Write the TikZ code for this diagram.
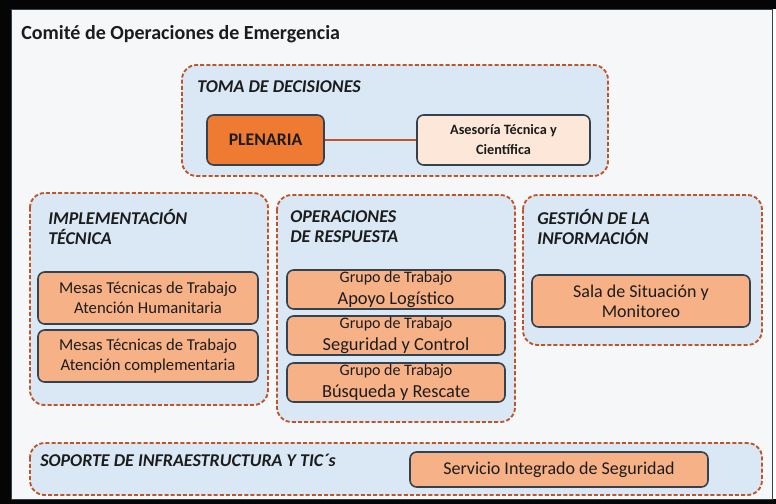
\documentclass[tikz,border=0pt]{standalone}
\usepackage{fontspec}
\setmainfont{Carlito}
\definecolor{coeFrame}{HTML}{050505}
\definecolor{coeSheet}{HTML}{F5F7F8}
\definecolor{coeSky}{HTML}{DAE8F5}
\definecolor{coeRust}{HTML}{BE5529}
\definecolor{coeSlate}{HTML}{34414F}
\definecolor{coePeach}{HTML}{F7B186}
\definecolor{coeFlame}{HTML}{EF7B32}
\definecolor{coeCream}{HTML}{FCE7D8}
\definecolor{coeInk}{HTML}{1C1C1C}

\begin{document}
\begin{tikzpicture}[x=0.75pt, y=-0.75pt,
  groupframe/.style={draw=coeRust, fill=coeSky, line width=1.4pt, dash pattern=on 3pt off 1.6pt, rounded corners=11pt},
  grouptitle/.style={anchor=west, inner sep=0pt, align=left, text=coeInk, font=\fontsize{13.5}{15}\selectfont\bfseries\itshape},
  taskbox/.style={draw=coeSlate, fill=coePeach, line width=1.2pt, rounded corners=5pt, inner sep=0pt, align=center, text=coeInk, font=\fontsize{12.5}{15}\selectfont},
  boxsize/.style 2 args={minimum width=#1*0.75pt, minimum height=#2*0.75pt},
  link/.style={draw=coeRust, line width=1.3pt}]
  \useasboundingbox (0,0) rectangle (776,504);
  % Sheet with its black frame
  \fill[coeFrame] (0,0) rectangle (776,504);
  \fill[white] (772,9) rectangle (776,499);
  \draw[coeSlate, line width=0.6pt, fill=coeSheet] (11,9) rectangle (772,499);
  \node[anchor=west, inner sep=0pt, text=coeInk, font=\fontsize{15}{18}\selectfont\bfseries] (sheettitle) at (21,34) {Comité de Operaciones de Emergencia};
  \newcommand{\groupframe}[4]{\draw[groupframe] (#1,#2) rectangle (#3,#4);}
  \newcommand{\grupo}{\fontsize{12}{16.5}\selectfont Grupo de Trabajo}
  % Groups (top, middle row, bottom)
  \groupframe{182}{65}{608}{176}
  \groupframe{30}{193}{268}{405}
  \groupframe{277}{195}{515}{422}
  \groupframe{523}{195}{762}{345}
  \groupframe{30}{443}{762}{495}
  \node[grouptitle] (tomatitle) at (197,87) {TOMA DE DECISIONES};
  \node[grouptitle] (impltitle) at (48,227) {IMPLEMENTACIÓN\\TÉCNICA};
  \node[grouptitle] (opertitle) at (290,227) {OPERACIONES\\DE RESPUESTA};
  \node[grouptitle] (gesttitle) at (537,227) {GESTIÓN DE LA\\INFORMACIÓN};
  \node[grouptitle] (soptitle) at (40,460) {SOPORTE DE INFRAESTRUCTURA Y TIC´s};
  % Toma de decisiones
  \node[taskbox, boxsize={117}{50}, fill=coeFlame, font=\fontsize{13.3}{15}\selectfont\bfseries] (plenaria) at (265.5,140) {PLENARIA};
  \node[taskbox, boxsize={173}{50}, fill=coeCream, font=\fontsize{10.7}{15}\selectfont\bfseries] (asesoria) at (503.5,140) {Asesoría Técnica y\\Científica};
  \draw[link] (plenaria) -- (asesoria);
  % Implementacion tecnica
  \node[taskbox, boxsize={220}{52}] (humanit) at (148,298) {Mesas Técnicas de Trabajo\\Atención Humanitaria};
  \node[taskbox, boxsize={220}{52}] (complem) at (148,356) {Mesas Técnicas de Trabajo\\Atención complementaria};
  % Operaciones de respuesta
  \node[taskbox, boxsize={218}{39}, font=\fontsize{13.8}{16.5}\selectfont] (logist) at (396,289.5) {{\grupo}\\Apoyo Logístico};
  \node[taskbox, boxsize={218}{39}, font=\fontsize{13.8}{16.5}\selectfont] (segur) at (396,335.5) {{\grupo}\\Seguridad y Control};
  \node[taskbox, boxsize={218}{39}, font=\fontsize{13.8}{16.5}\selectfont] (rescate) at (396,382.5) {{\grupo}\\Búsqueda y Rescate};
  % Gestion de la informacion
  \node[taskbox, boxsize={218}{52}, font=\fontsize{13.5}{15}\selectfont] (sala) at (641,301) {Sala de Situación y\\Monitoreo};
  % Soporte
  \node[taskbox, boxsize={298}{35}, font=\fontsize{13.5}{15}\selectfont] (servicio) at (559,469.5) {Servicio Integrado de Seguridad};
\end{tikzpicture}
\end{document}
